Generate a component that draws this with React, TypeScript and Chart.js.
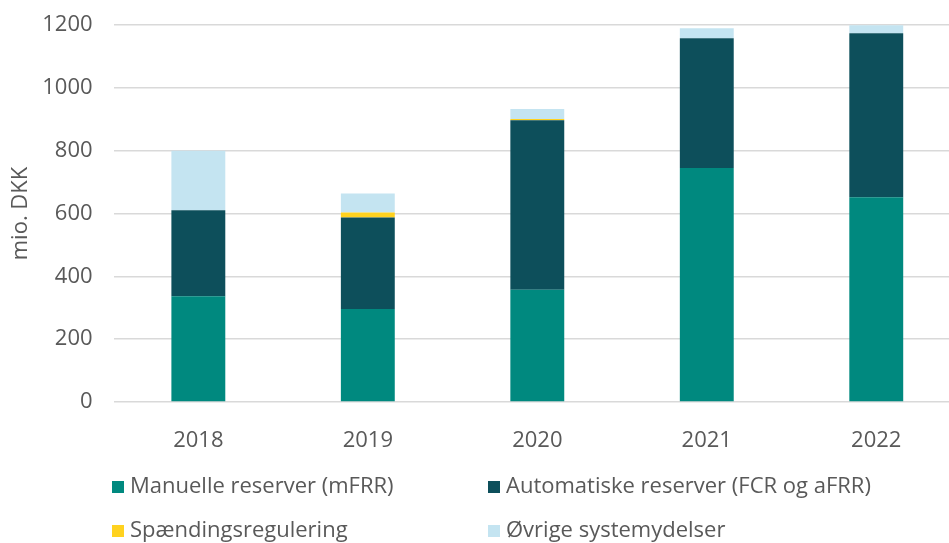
import React, { useEffect, useRef } from "react";
import { Chart, registerables } from "chart.js";

Chart.register(...registerables);

const categories = ["2018", "2019", "2020", "2021", "2022"];
const manuelle = [337, 296, 357, 745, 652];
const automatiske = [273, 291, 540, 413, 522];
const spaending = [0, 16, 4, 0, 0];
const oevrige = [190, 61, 32, 32, 25];
const seriesNames = [
  "Manuelle reserver (mFRR)",
  "Automatiske reserver (FCR og aFRR)",
  "Spændingsregulering",
  "Øvrige systemydelser",
];
const seriesColors = ["#00897F", "#0D4F5B", "#FFD21F", "#C4E4F1"];
const yTicks = [0, 200, 400, 600, 800, 1000, 1200];

const FONT = "'Open Sans', sans-serif";
const TEXT = "#595959";

const legendPlugin = {
  id: "gridLegend",
  afterDraw(chart: any) {
    const ctx = chart.ctx;
    const cols = [112, 488];
    const rows = [487, 531];
    ctx.save();
    ctx.font = `22px ${FONT}`;
    ctx.textBaseline = "middle";
    ctx.textAlign = "left";
    chart.data.datasets.forEach((ds: any, i: number) => {
      const x = cols[i % 2];
      const y = rows[Math.floor(i / 2)];
      ctx.fillStyle = ds.backgroundColor;
      ctx.fillRect(x, y - 6, 12, 12);
      ctx.fillStyle = TEXT;
      ctx.fillText(ds.label, x + 18, y);
    });
    ctx.restore();
  },
};

export default function App() {
  const ref = useRef<HTMLCanvasElement>(null);
  useEffect(() => {
    if (!ref.current) return;
    const values = [manuelle, automatiske, spaending, oevrige];
    const chart = new Chart(ref.current, {
      type: "bar",
      data: {
        labels: categories,
        datasets: values.map((v, i) => ({
          label: seriesNames[i],
          data: v,
          backgroundColor: seriesColors[i],
          borderWidth: 0,
          categoryPercentage: 1,
          barPercentage: 0.318,
        })),
      },
      options: {
        animation: false,
        responsive: true,
        maintainAspectRatio: false,
        layout: { padding: { top: 25, right: 0, bottom: 96, left: 0 } },
        plugins: {
          legend: { display: false },
          tooltip: { enabled: false },
        },
        scales: {
          x: {
            stacked: true,
            grid: { display: false },
            border: { display: false },
            ticks: {
              color: TEXT,
              font: { family: FONT, size: 22 },
              padding: 18,
            },
            afterFit: (s: any) => {
              s.height = 45;
              s.paddingLeft = 0;
              s.paddingRight = 0;
            },
          },
          y: {
            stacked: true,
            min: 0,
            max: 1200,
            afterBuildTicks: (s: any) => {
              s.ticks = yTicks.map((v) => ({ value: v }));
            },
            grid: { color: "#D9D9D9", lineWidth: 1.5, drawTicks: false },
            border: { display: false },
            ticks: {
              color: TEXT,
              font: { family: FONT, size: 22 },
              padding: 21,
              callback: (v: any) => String(v),
            },
            title: {
              display: true,
              text: "mio. DKK",
              color: TEXT,
              font: { family: FONT, size: 22 },
              padding: { top: 8, bottom: 0 },
            },
            afterFit: (s: any) => {
              s.width = 113.6;
              s.paddingTop = 0;
              s.paddingBottom = 0;
            },
          },
        },
      },
      plugins: [legendPlugin],
    });
    return () => chart.destroy();
  }, []);

  return (
    <div
      style={{
        position: "fixed",
        left: 0,
        top: 0,
        width: 949,
        height: 543,
        overflow: "hidden",
        background: "#fff",
      }}
    >
      <div style={{ position: "relative", width: 961, height: 543 }}>
        <canvas ref={ref} />
      </div>
    </div>
  );
}
